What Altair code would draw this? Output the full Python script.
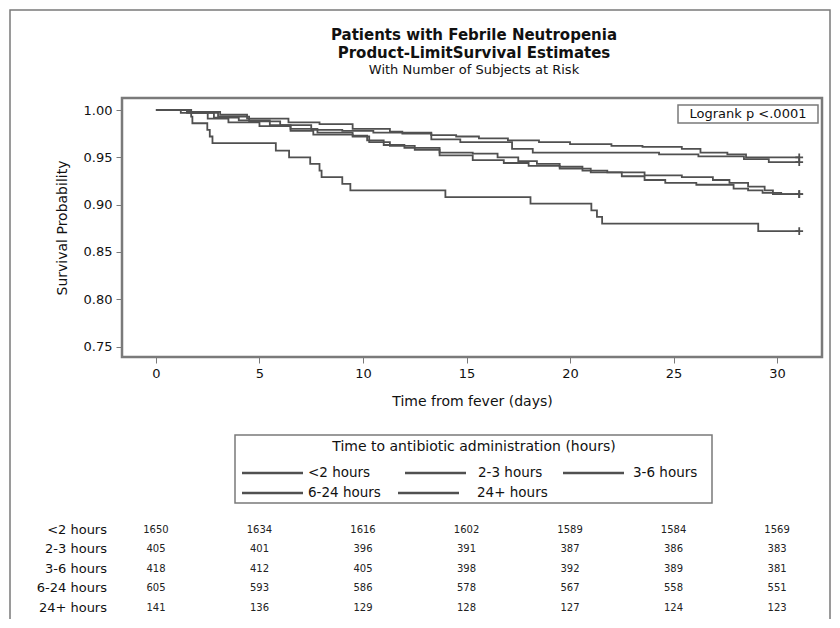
import altair as alt
import pandas as pd

groups = ["<2 hours", "2-3 hours", "3-6 hours", "6-24 hours", "24+ hours"]

t_lt2 = [0, 1.5, 3.1, 4.4, 6.4, 7.9, 9.5, 11.3, 11.9, 13.3, 14.5, 15.6, 17.0, 18.5, 20.0, 22.0, 23.5, 25.4, 26.3, 27.6, 28.5, 31.07]
s_lt2 = [1.0, 0.998, 0.995, 0.991, 0.987, 0.985, 0.980, 0.977, 0.975, 0.9735, 0.972, 0.970, 0.968, 0.966, 0.964, 0.962, 0.961, 0.959, 0.955, 0.953, 0.950, 0.950]

t_2_3 = [0, 1.7, 3.0, 4.5, 6.0, 7.5, 9.0, 10.5, 13.3, 14.7, 17.2, 18.2, 24.3, 26.2, 28.4, 29.6, 31.07]
s_2_3 = [1.0, 0.997, 0.993, 0.988, 0.984, 0.979, 0.978, 0.976, 0.969, 0.966, 0.959, 0.955, 0.953, 0.951, 0.948, 0.945, 0.945]

t_3_6 = [0, 1.5, 2.8, 4.0, 5.5, 6.5, 7.8, 9.5, 10.2, 11.0, 12.0, 13.7, 15.3, 16.5, 17.5, 18.4, 19.5, 20.6, 21.8, 23.6, 25.4, 26.9, 27.7, 28.6, 29.4, 29.8, 31.07]
s_3_6 = [1.0, 0.997, 0.992, 0.989, 0.984, 0.980, 0.976, 0.973, 0.968, 0.963, 0.960, 0.955, 0.954, 0.950, 0.946, 0.943, 0.940, 0.936, 0.934, 0.931, 0.929, 0.926, 0.923, 0.919, 0.915, 0.911, 0.911]

t_6_24 = [0, 1.2, 2.5, 3.5, 5.0, 6.5, 7.6, 9.5, 10.3, 11.3, 12.5, 13.7, 15.3, 16.8, 18.0, 19.5, 21.0, 22.5, 23.6, 24.6, 26.1, 27.9, 28.6, 29.3, 30.2, 31.07]
s_6_24 = [1.0, 0.997, 0.991, 0.987, 0.983, 0.978, 0.974, 0.972, 0.966, 0.962, 0.958, 0.952, 0.947, 0.944, 0.941, 0.938, 0.934, 0.930, 0.926, 0.923, 0.921, 0.917, 0.915, 0.9125, 0.911, 0.911]

t_24p = [0, 1.7, 1.76, 2.48, 2.6, 2.73, 5.79, 6.43, 7.45, 7.9, 8.0, 9.0, 9.39, 13.98, 18.09, 21.03, 21.3, 21.55, 29.09, 31.07]
s_24p = [1.0, 0.993, 0.986, 0.979, 0.972, 0.965, 0.957, 0.950, 0.943, 0.936, 0.929, 0.922, 0.915, 0.908, 0.901, 0.894, 0.887, 0.880, 0.872, 0.872]

risk_times = [0, 5, 10, 15, 20, 25, 30]
risk_lt2 = [1650, 1634, 1616, 1602, 1589, 1584, 1569]
risk_2_3 = [405, 401, 396, 391, 387, 386, 383]
risk_3_6 = [418, 412, 405, 398, 392, 389, 381]
risk_6_24 = [605, 593, 586, 578, 567, 558, 551]
risk_24p = [141, 136, 129, 128, 127, 124, 123]

x_ticks = [0, 5, 10, 15, 20, 25, 30]
y_ticks = [0.75, 0.80, 0.85, 0.90, 0.95, 1.00]

title_lines = ["Patients with Febrile Neutropenia", "Product-LimitSurvival Estimates"]
subtitle = "With Number of Subjects at Risk"
legend_title = "Time to antibiotic administration (hours)"
logrank_text = "Logrank p <.0001"

times = [t_lt2, t_2_3, t_3_6, t_6_24, t_24p]
survs = [s_lt2, s_2_3, s_3_6, s_6_24, s_24p]
risks = [risk_lt2, risk_2_3, risk_3_6, risk_6_24, risk_24p]

rows = []
for g, ts, ss in zip(groups, times, survs):
    for t, s in zip(ts, ss):
        rows.append({"group": g, "t": t, "s": s})
curves = pd.DataFrame(rows)
cens = pd.DataFrame({"group": groups, "t": [ts[-1] for ts in times], "s": [ss[-1] for ss in survs]})

FONT = "DejaVu Sans"
GRAY = "#505050"
FRAME = "#7a7a7a"

xs = alt.Scale(domain=[-1.64, 32.17], nice=False, zero=False)
ys = alt.Scale(domain=[0.7389, 1.0127], nice=False, zero=False)

lines = alt.Chart(curves).mark_line(interpolate="step-after", strokeWidth=1.8, color=GRAY).encode(
    x=alt.X("t:Q", scale=xs, axis=alt.Axis(values=x_ticks, title="Time from fever (days)", grid=False,
                                            domain=False, tickColor=FRAME, tickSize=6, labelFontSize=13,
                                            labelFont=FONT, titleFont=FONT, titleFontSize=14,
                                            titleFontWeight="normal", labelPadding=4, titlePadding=14,
                                            labelColor="#111", titleColor="#111")),
    y=alt.Y("s:Q", scale=ys, axis=alt.Axis(values=y_ticks, format=".2f", title="Survival Probability",
                                            grid=False, domain=False, tickColor=FRAME, tickSize=6,
                                            labelFontSize=13, labelFont=FONT, titleFont=FONT,
                                            titleFontSize=14, titleFontWeight="normal", labelPadding=4,
                                            titlePadding=14, labelColor="#111", titleColor="#111")),
    detail="group:N",
)

marks = alt.Chart(cens).mark_point(shape="M-1,0L1,0M0,-1L0,1", size=60, filled=False,
                                   strokeWidth=1.8, color=GRAY, opacity=1).encode(
    x=alt.X("t:Q", scale=xs), y=alt.Y("s:Q", scale=ys))

one = pd.DataFrame({"label": [logrank_text]})
lr_box = alt.Chart(one).mark_rect(fillOpacity=0, stroke=FRAME, strokeWidth=1.5).encode(
    x=alt.value(556), x2=alt.value(696), y=alt.value(7), y2=alt.value(25))
lr_text = alt.Chart(one).mark_text(font=FONT, fontSize=13, color="#111").encode(
    x=alt.value(626), y=alt.value(16), text="label:N")

t1 = alt.Chart(pd.DataFrame({"label": [title_lines[0]]})).mark_text(
    font=FONT, fontSize=15, fontWeight="bold", color="#111").encode(
    x=alt.value(352), y=alt.value(-63), text="label:N")
t2 = alt.Chart(pd.DataFrame({"label": [title_lines[1]]})).mark_text(
    font=FONT, fontSize=15, fontWeight="bold", color="#111").encode(
    x=alt.value(352), y=alt.value(-45), text="label:N")
t3 = alt.Chart(pd.DataFrame({"label": [subtitle]})).mark_text(
    font=FONT, fontSize=13, color="#111").encode(
    x=alt.value(352), y=alt.value(-28), text="label:N")

leg_df = pd.DataFrame({"label": [legend_title]})
leg_box = alt.Chart(leg_df).mark_rect(fillOpacity=0, stroke=FRAME, strokeWidth=1.5).encode(
    x=alt.value(113), x2=alt.value(590), y=alt.value(337), y2=alt.value(405))
leg_title = alt.Chart(leg_df).mark_text(font=FONT, fontSize=14, color="#111").encode(
    x=alt.value(352), y=alt.value(349), text="label:N")
leg_layers = []
line_x = [120, 283, 441, 120, 276]
text_x = [186, 356, 511, 186, 355]
row_y = [375, 375, 375, 395, 395]
for i, g in enumerate(groups):
    d = pd.DataFrame({"label": [g]})
    leg_layers.append(alt.Chart(d).mark_rule(color=GRAY, strokeWidth=2.5).encode(
        x=alt.value(line_x[i]), x2=alt.value(line_x[i] + 61), y=alt.value(row_y[i])))
    leg_layers.append(alt.Chart(d).mark_text(font=FONT, fontSize=13.5, align="left", color="#111").encode(
        x=alt.value(text_x[i]), y=alt.value(row_y[i]), text="label:N"))

tab_layers = []
tab_y = [432, 451, 471, 490, 510]
for i, g in enumerate(groups):
    d = pd.DataFrame({"t": risk_times, "n": risks[i]})
    tab_layers.append(alt.Chart(d).mark_text(font=FONT, fontSize=10, color="#222").encode(
        x=alt.X("t:Q", scale=xs), y=alt.value(tab_y[i]), text="n:Q"))
    dl = pd.DataFrame({"label": [g]})
    tab_layers.append(alt.Chart(dl).mark_text(font=FONT, fontSize=13, align="right", color="#111").encode(
        x=alt.value(-15), y=alt.value(tab_y[i]), text="label:N"))

outer = alt.Chart(one).mark_rect(fillOpacity=0, stroke=FRAME, strokeWidth=1.5).encode(
    x=alt.value(-112), x2=alt.value(708), y=alt.value(-88), y2=alt.value(522))

chart = alt.layer(lines, marks, lr_box, lr_text, t1, t2, t3, leg_box, leg_title,
                  *leg_layers, *tab_layers, outer).properties(
    width=700, height=259,
    autosize=alt.AutoSizeParams(type="none"),
    padding={"left": 114, "top": 90, "right": 10, "bottom": 262},
).configure_view(stroke=FRAME, strokeWidth=2.5)

chart.save("out.html", embed_options={"renderer": "svg", "actions": False})
